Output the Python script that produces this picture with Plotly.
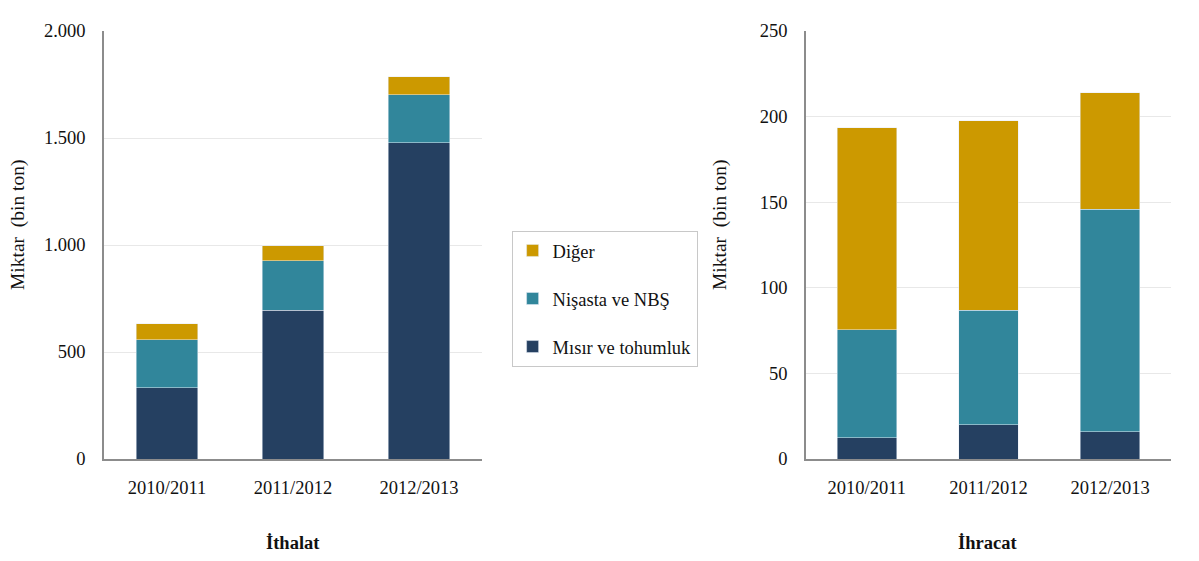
import plotly.graph_objects as go
from plotly.subplots import make_subplots

YEARS = ["2010/2011", "2011/2012", "2012/2013"]
SERIES = ["Mısır ve tohumluk", "Nişasta ve NBŞ", "Diğer"]

# ithalat (bin ton)
ITH_MISIR = [332, 695, 1477]
ITH_NISASTA = [226, 232, 226]
ITH_DIGER = [75, 69, 83]

# ihracat (bin ton)
IHR_MISIR = [12.5, 20, 16]
IHR_NISASTA = [63, 67, 130]
IHR_DIGER = [118, 110.5, 68]

COLORS = ["#254061", "#31869B", "#CC9900"]
FONT = "Liberation Serif, Times New Roman, serif"
INK = "#111111"
AXIS = "#8c8c8c"
GRID = "#e8e8e8"
FS = 18.5

fig = make_subplots(rows=1, cols=2, horizontal_spacing=0.3036)

for i, (name, vals) in enumerate(zip(SERIES, [ITH_MISIR, ITH_NISASTA, ITH_DIGER])):
    fig.add_trace(go.Bar(x=YEARS, y=vals, name=name, marker_color=COLORS[i],
                         legendgroup=name, legendrank=10 - i, showlegend=True), row=1, col=1)
for i, (name, vals) in enumerate(zip(SERIES, [IHR_MISIR, IHR_NISASTA, IHR_DIGER])):
    fig.add_trace(go.Bar(x=YEARS, y=vals, name=name, marker_color=COLORS[i],
                         legendgroup=name, legendrank=10 - i, showlegend=False), row=1, col=2)

# page body has an 8px margin, so margins are shifted by 8
fig.update_layout(
    width=1199, height=561, barmode="stack", bargap=0.51,
    separators=",.",
    margin=dict(l=96, r=36, t=23, b=110),
    paper_bgcolor="white", plot_bgcolor="white",
    font=dict(family=FONT, size=FS, color=INK),
    legend=dict(x=0.382, y=0.374, xanchor="left", yanchor="middle",
                traceorder="grouped", tracegroupgap=21, itemwidth=30,
                bordercolor="#c8c8c8", borderwidth=1,
                font=dict(family=FONT, size=FS, color=INK)),
)

fig.update_xaxes(showline=True, linecolor=AXIS, linewidth=1.5, showgrid=False,
                 ticks="", ticklabelstandoff=11, tickfont=dict(size=FS))
fig.update_yaxes(showline=True, linecolor=AXIS, linewidth=1.5, showgrid=True,
                 gridcolor=GRID, gridwidth=1, zeroline=False, ticks="",
                 ticklabelstandoff=13, tickfont=dict(size=FS))
fig.update_xaxes(domain=[0, 0.3543], row=1, col=1)
fig.update_xaxes(domain=[0.6579, 1], row=1, col=2)
fig.update_yaxes(range=[0, 2000], dtick=500, separatethousands=True, row=1, col=1)
fig.update_yaxes(range=[0, 250], dtick=50, row=1, col=2)

for xp in [-0.0806, 0.5773]:
    fig.add_annotation(text="Miktar  (bin ton)", xref="paper", yref="paper", x=xp, y=0.549,
                       xanchor="center", yanchor="middle",
                       textangle=-90, showarrow=False, font=dict(size=19.5))
for xp, txt in [(0.1771, "<b>İthalat</b>"), (0.8276, "<b>İhracat</b>")]:
    fig.add_annotation(text=txt, xref="paper", yref="paper", x=xp, y=-0.196,
                       xanchor="center", yanchor="middle",
                       showarrow=False, font=dict(size=FS))

fig.write_html("out.html")
